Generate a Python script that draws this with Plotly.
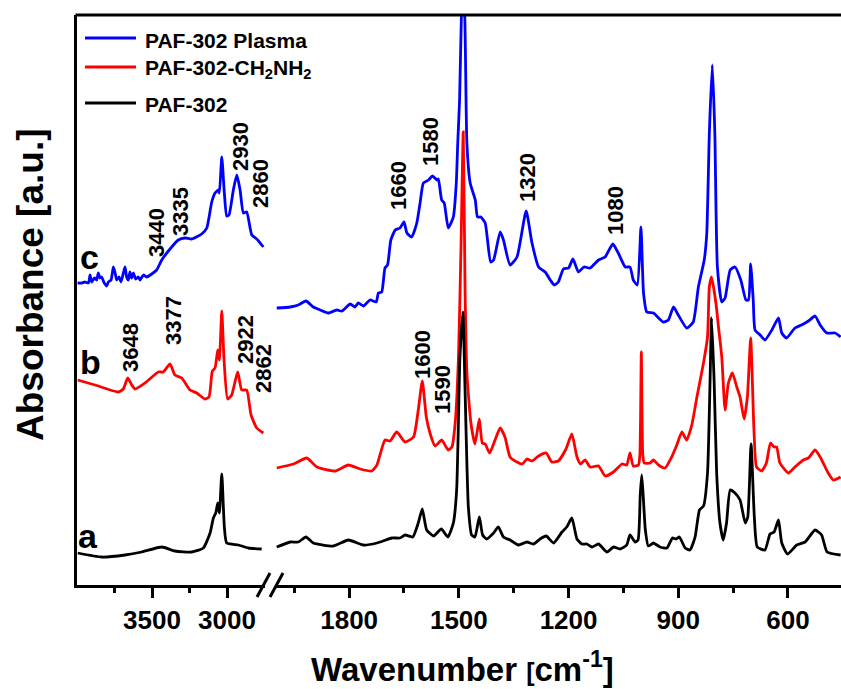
import plotly.graph_objects as go

# ---------------- data (wavenumber in cm-1, absorbance in arbitrary units, offset) -------------
# Curve c : PAF-302 Plasma
wn_c_hi = [3996, 3969, 3947, 3924, 3913, 3902, 3884, 3869, 3858, 3847, 3836, 3818, 3802, 3791, 3773,
           3758, 3747, 3736, 3720, 3707, 3691, 3680, 3669, 3658, 3647, 3636, 3624, 3609, 3591, 3580,
           3558, 3536, 3502, 3469, 3435, 3369, 3325, 3280, 3235, 3169, 3135, 3102, 3080, 3058, 3051,
           3035, 3018, 3002, 2987, 2958, 2935, 2913, 2891, 2869, 2835, 2802, 2758]
abs_c_hi = [3.02, 3.02, 3.03, 3.02, 3.10, 3.03, 3.07, 3.05, 3.12, 3.07, 3.08, 3.02, 2.99, 3.03, 3.05,
            3.18, 3.13, 3.05, 3.08, 3.03, 3.12, 3.18, 3.08, 3.05, 3.13, 3.07, 3.12, 3.06, 3.08, 3.05,
            3.10, 3.08, 3.11, 3.15, 3.25, 3.38, 3.45, 3.47, 3.46, 3.51, 3.57, 3.83, 3.92, 3.95, 3.92,
            4.28, 3.92, 3.69, 3.70, 3.95, 4.10, 3.95, 3.72, 3.73, 3.50, 3.46, 3.38]
wn_c_lo = [1998, 1961, 1939, 1918, 1898, 1879, 1857, 1834, 1820, 1797, 1784, 1775, 1761, 1743, 1726,
           1720, 1711, 1702, 1695, 1686, 1674, 1661, 1650, 1642, 1629, 1615, 1606, 1597, 1583, 1572,
           1560, 1556, 1547, 1540, 1529, 1515, 1507, 1503, 1498, 1493, 1490, 1484, 1478, 1469, 1455,
           1449, 1440, 1428, 1413, 1405, 1387, 1378, 1360, 1341, 1316, 1300, 1282, 1264, 1250, 1239,
           1228, 1214, 1200, 1188, 1173, 1158, 1141, 1118, 1100, 1079, 1064, 1045, 1032, 1023, 1012,
           1002, 995, 986, 968, 941, 927, 913, 900, 877, 859, 845, 829, 822, 815, 807,
           800, 793, 781, 772, 758, 745, 729, 715, 708, 702, 695, 690, 676, 663, 644,
           626, 617, 604, 581, 563, 544, 526, 512, 494, 471, 456]
abs_c_lo = [2.77, 2.78, 2.80, 2.84, 2.78, 2.75, 2.72, 2.75, 2.74, 2.81, 2.78, 2.82, 2.79, 2.85, 2.83,
            2.92, 2.93, 3.17, 3.20, 3.45, 3.55, 3.57, 3.63, 3.52, 3.48, 3.62, 3.82, 4.02, 4.05, 4.09,
            4.05, 4.06, 3.85, 3.82, 3.57, 3.68, 4.02, 4.42, 4.85, 5.70, 5.95, 5.70, 4.42, 4.02, 3.85,
            3.68, 3.68, 3.62, 3.23, 3.25, 3.53, 3.45, 3.20, 3.28, 3.74, 3.42, 3.18, 3.13, 3.05, 3.00,
            3.03, 3.16, 3.17, 3.26, 3.13, 3.18, 3.17, 3.25, 3.28, 3.41, 3.32, 3.18, 3.18, 3.05, 3.00,
            3.58, 2.92, 2.73, 2.72, 2.63, 2.65, 2.78, 2.70, 2.57, 2.63, 2.98, 3.25, 3.52, 4.52, 5.20,
            4.52, 3.18, 2.83, 2.87, 3.15, 3.18, 3.05, 2.85, 2.85, 3.21, 2.85, 2.55, 2.50, 2.45, 2.55,
            2.67, 2.52, 2.47, 2.57, 2.60, 2.64, 2.69, 2.60, 2.52, 2.52, 2.48]

# Curve b : PAF-302-CH2NH2
wn_b_hi = [3995, 3880, 3724, 3691, 3662, 3635, 3613, 3547, 3458, 3425, 3380, 3347, 3302, 3247, 3202,
           3147, 3120, 3098, 3080, 3062, 3051, 3035, 3020, 2996, 2969, 2929, 2902, 2869, 2840, 2802,
           2758]
abs_b_hi = [2.05, 2.00, 1.93, 1.96, 2.07, 2.00, 1.96, 2.02, 2.13, 2.13, 2.21, 2.10, 2.07, 1.95, 1.92,
            1.86, 1.88, 2.14, 2.17, 2.35, 2.25, 2.74, 2.25, 1.86, 1.90, 2.13, 1.95, 1.95, 1.70, 1.57,
            1.52]
wn_b_lo = [1998, 1952, 1916, 1888, 1838, 1802, 1770, 1738, 1724, 1702, 1688, 1670, 1647, 1624, 1611,
           1600, 1589, 1579, 1565, 1547, 1529, 1519, 1510, 1501, 1494, 1488, 1483, 1478, 1467, 1456,
           1444, 1436, 1428, 1416, 1401, 1387, 1374, 1360, 1341, 1326, 1314, 1300, 1282, 1261, 1246,
           1228, 1207, 1191, 1177, 1167, 1155, 1141, 1118, 1100, 1077, 1054, 1041, 1032, 1023, 1009,
           1005, 1001, 997, 993, 977, 968, 954, 936, 918, 904, 890, 877, 863, 849, 831,
           820, 815, 809, 797, 790, 781, 772, 763, 752, 740, 731, 720, 711, 702, 693,
           686, 672, 659, 648, 638, 631, 622, 599, 581, 558, 544, 526, 512, 490, 476, 456]
abs_b_lo = [1.17, 1.21, 1.27, 1.18, 1.14, 1.20, 1.16, 1.14, 1.20, 1.45, 1.44, 1.53, 1.43, 1.48, 1.75,
            2.04, 1.68, 1.52, 1.39, 1.45, 1.35, 1.38, 1.62, 2.28, 3.40, 4.53, 2.95, 2.12, 1.62, 1.41,
            1.66, 1.42, 1.41, 1.32, 1.45, 1.57, 1.48, 1.28, 1.23, 1.21, 1.26, 1.24, 1.29, 1.32, 1.23,
            1.24, 1.36, 1.51, 1.28, 1.21, 1.25, 1.18, 1.19, 1.09, 1.13, 1.21, 1.20, 1.32, 1.19, 1.20,
            1.30, 2.33, 1.30, 1.22, 1.22, 1.25, 1.20, 1.17, 1.28, 1.40, 1.53, 1.45, 1.60, 1.88, 2.22,
            2.48, 2.98, 3.08, 2.82, 2.58, 2.28, 1.75, 2.02, 2.12, 1.98, 1.88, 1.66, 1.88, 2.47, 1.55,
            1.18, 1.14, 1.22, 1.42, 1.38, 1.38, 1.22, 1.12, 1.18, 1.25, 1.27, 1.35, 1.28, 1.12, 1.05, 1.08]

# Curve a : PAF-302
wn_a_hi = [3995, 3836, 3680, 3569, 3435, 3347, 3235, 3158, 3113, 3091, 3075, 3062, 3051, 3035, 3018,
           3002, 2924, 2858, 2769]
abs_a_hi = [0.32, 0.28, 0.30, 0.33, 0.38, 0.34, 0.33, 0.37, 0.52, 0.67, 0.72, 0.82, 0.72, 1.11, 0.58,
            0.42, 0.40, 0.37, 0.36]
wn_a_lo = [1998, 1961, 1939, 1918, 1898, 1843, 1802, 1761, 1724, 1683, 1661, 1647, 1626, 1611, 1600,
           1588, 1569, 1548, 1530, 1515, 1506, 1497, 1489, 1483, 1474, 1465, 1456, 1444, 1435, 1424,
           1405, 1392, 1378, 1360, 1337, 1314, 1296, 1278, 1261, 1241, 1218, 1205, 1191, 1177, 1164,
           1150, 1136, 1118, 1095, 1077, 1059, 1041, 1032, 1018, 1010, 1004, 1000, 996, 990, 982,
           968, 950, 931, 916, 906, 897, 881, 868, 854, 842, 831, 820, 813, 809, 802,
           795, 786, 777, 768, 758, 745, 731, 717, 710, 701, 692, 684, 663, 649, 638,
           626, 617, 601, 576, 553, 526, 508, 493, 456]
abs_a_lo = [0.38, 0.43, 0.43, 0.48, 0.42, 0.39, 0.45, 0.40, 0.42, 0.47, 0.47, 0.50, 0.48, 0.62, 0.76,
            0.55, 0.49, 0.56, 0.48, 0.62, 0.95, 2.28, 2.73, 1.95, 0.78, 0.50, 0.48, 0.68, 0.50, 0.46,
            0.52, 0.58, 0.48, 0.45, 0.40, 0.43, 0.41, 0.46, 0.49, 0.42, 0.53, 0.58, 0.67, 0.46, 0.41,
            0.41, 0.38, 0.41, 0.33, 0.38, 0.36, 0.40, 0.50, 0.43, 0.45, 0.90, 1.10, 0.90, 0.55, 0.39,
            0.42, 0.38, 0.37, 0.47, 0.46, 0.48, 0.37, 0.35, 0.48, 0.75, 0.79, 1.12, 2.05, 2.67, 2.05,
            1.12, 0.62, 0.45, 0.62, 0.95, 0.92, 0.85, 0.62, 0.68, 1.41, 0.68, 0.38, 0.35, 0.51, 0.53,
            0.65, 0.42, 0.31, 0.40, 0.43, 0.55, 0.50, 0.33, 0.30]

series_names = ["PAF-302 Plasma", "PAF-302-CH<sub>2</sub>NH<sub>2</sub>", "PAF-302"]
series_colors = ["#0000FF", "#FF0000", "#000000"]
series_letters = ["c", "b", "a"]

ticks_hi = [3500, 3000]
minor_hi = [3750, 3250]
ticks_lo = [1800, 1500, 1200, 900, 600]
minor_lo = [1950, 1650, 1350, 1050, 750]

peak_labels = ["3440", "3335", "2930", "2860", "3648", "3377", "2922", "2862",
               "1660", "1580", "1320", "1080", "1600", "1590"]
# label centres in pixels
peak_pos = [(157, 233), (181, 212), (240, 147), (260, 184), (130, 348), (173, 321), (245, 340),
            (264, 369), (398, 186), (430, 142), (527, 178), (616, 211), (422, 355), (442, 390)]

# ---------------- layout geometry -------------
W, H = 841, 689
L, T, B, R = 77, 15, 104, 0
PW = W - L - R
PH = H - T - B
FONT = "Liberation Sans, Arial, sans-serif"


def fx(px):
    return (px - L) / PW


def fy(py):
    return (H - B - py) / PH


fig = go.Figure()

segments = [
    (wn_c_hi, abs_c_hi, wn_c_lo, abs_c_lo),
    (wn_b_hi, abs_b_hi, wn_b_lo, abs_b_lo),
    (wn_a_hi, abs_a_hi, wn_a_lo, abs_a_lo),
]
for (xh, yh, xl, yl), name, col in zip(segments, series_names, series_colors):
    fig.add_trace(go.Scatter(x=xh, y=yh, mode="lines", name=name, xaxis="x", yaxis="y",
                             line=dict(color=col, width=2.8, shape="spline", smoothing=0.5),
                             showlegend=False))
    fig.add_trace(go.Scatter(x=xl, y=yl, mode="lines", name=name, xaxis="x2", yaxis="y",
                             line=dict(color=col, width=2.8, shape="spline", smoothing=0.5),
                             showlegend=False))

axis_common = dict(showline=True, linewidth=3, linecolor="black", showgrid=False, zeroline=False,
                   ticks="outside", ticklen=10, tickwidth=3, tickcolor="black",
                   tickfont=dict(family=FONT, size=26, color="black", weight="bold"),
                   anchor="y")

fig.update_layout(
    width=W, height=H,
    margin=dict(l=L, r=R, t=T, b=B),
    plot_bgcolor="white", paper_bgcolor="white",
    xaxis=dict(domain=[0, fx(265)], range=[4000, 2747], tickmode="array", tickvals=ticks_hi,
               minor=dict(tickmode="array", tickvals=minor_hi, ticks="outside", ticklen=5,
                          tickwidth=3, tickcolor="black"),
               **axis_common),
    xaxis2=dict(domain=[fx(276), 1], range=[2000, 455], tickmode="array", tickvals=ticks_lo,
                minor=dict(tickmode="array", tickvals=minor_lo, ticks="outside", ticklen=5,
                           tickwidth=3, tickcolor="black"),
                **axis_common),
    yaxis=dict(range=[0, 5.70], showline=True, linewidth=3, linecolor="black", showgrid=False,
               zeroline=False, showticklabels=False, ticks=""),
    showlegend=False,
)

shapes = []
# top frame line
shapes.append(dict(type="line", xref="paper", yref="paper", x0=fx(L - 1.5), x1=1, y0=1, y1=1,
                   line=dict(color="black", width=3)))
# axis break marks "//"
for x0, x1 in [(257, 270), (270, 283)]:
    shapes.append(dict(type="line", xref="paper", yref="paper", x0=fx(x0), y0=fy(597),
                       x1=fx(x1), y1=fy(573), line=dict(color="black", width=3)))
# legend line samples
legend_rows = [38, 67, 103]
for yy, col in zip(legend_rows, series_colors):
    shapes.append(dict(type="line", xref="paper", yref="paper", x0=fx(85), x1=fx(136),
                       y0=fy(yy), y1=fy(yy), line=dict(color=col, width=3)))

annotations = []
legend_text_y = [40, 69, 104]
for yy, name in zip(legend_text_y, series_names):
    annotations.append(dict(x=fx(143), y=fy(yy), xref="paper", yref="paper", text=name,
                            showarrow=False, xanchor="left", yanchor="middle",
                            font=dict(family=FONT, size=21, color="black", weight="bold")))

for txt, (px, py) in zip(peak_labels, peak_pos):
    annotations.append(dict(x=fx(px), y=fy(py), xref="paper", yref="paper", text=txt,
                            showarrow=False, textangle=-90, xanchor="center", yanchor="middle",
                            font=dict(family=FONT, size=22, color="black", weight="bold")))

for txt, (px, py) in zip(series_letters, [(89, 257), (90, 362), (88, 536)]):
    annotations.append(dict(x=fx(px), y=fy(py), xref="paper", yref="paper", text=txt,
                            showarrow=False, xanchor="center", yanchor="middle",
                            font=dict(family=FONT, size=34, color="black", weight="bold")))

annotations.append(dict(x=fx(463), y=fy(667), xref="paper", yref="paper",
                        text="Wavenumber <span style='font-size:25px'>[</span>cm<sup>-1</sup>]",
                        showarrow=False, xanchor="center", yanchor="middle",
                        font=dict(family=FONT, size=33, color="black", weight="bold")))
annotations.append(dict(x=fx(30), y=fy(285), xref="paper", yref="paper",
                        text="Absorbance [a.u.]", showarrow=False, textangle=-90,
                        xanchor="center", yanchor="middle",
                        font=dict(family=FONT, size=37, color="black", weight="bold")))

fig.update_layout(shapes=shapes, annotations=annotations)

fig.write_html("out.html", config={"displayModeBar": False},
               post_script="document.body.style.margin='0';document.body.style.overflow='hidden';")
